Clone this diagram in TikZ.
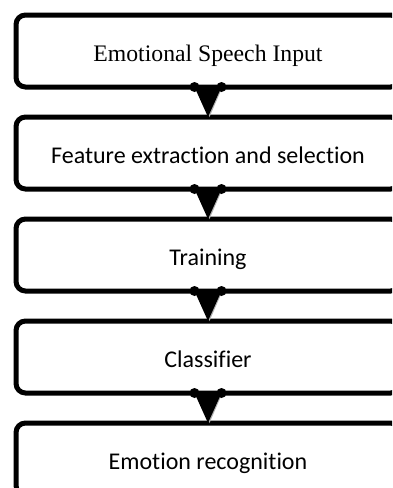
\documentclass[tikz,border=0pt]{standalone}
\usepackage{fontspec}
\setmainfont{Carlito}[Ligatures=NoCommon]
\newfontfamily\timesfont{Liberation Serif}
\usepackage{tikz}
\usetikzlibrary{positioning, calc}

\begin{document}
\begin{tikzpicture}[x=1pt, y=1pt,
    node distance=30pt,
    stage/.style={draw, line width=5pt, rounded corners=9.5pt, minimum width=384pt,
        minimum height=72pt, inner sep=0pt, outer sep=0pt, text height=21pt,
        text depth=0pt, font=\fontsize{24}{28}\selectfont}]
    \useasboundingbox (0,0) rectangle (392,-488);
    \clip (0,0) rectangle (392,-488);

    \node[stage, font=\timesfont\fontsize{23.7}{28}\selectfont] (input) at (208,-51) {Emotional Speech Input};
    \node[stage, below=of input] (feature) {Feature extraction and selection};
    \node[stage, below=of feature] (train) {Training};
    \node[stage, below=of train] (classifier) {Classifier};
    \node[stage, below=of classifier] (emotion) {Emotion recognition};

    \foreach \a/\b in {input/feature, feature/train, train/classifier, classifier/emotion} {
        \fill[gray!60] ($(\a.south)+(-12,0)$) -- ($(\b.north)+(1.5,0)$) -- ($(\a.south)+(14.5,0)$) -- cycle;
        \fill ($(\a.south)+(-13.5,0)$) -- (\b.north) -- ($(\a.south)+(13.5,0)$) -- cycle;
        \fill ($(\a.south)+(-13.5,0)$) circle (5pt) ($(\a.south)+(13.5,0)$) circle (5pt);
    }
\end{tikzpicture}
\end{document}
